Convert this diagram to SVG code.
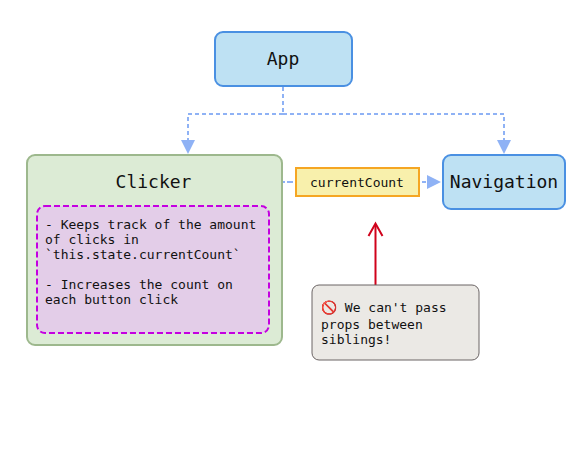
<svg xmlns="http://www.w3.org/2000/svg" width="577" height="466" viewBox="0 0 577 466">
<defs>
<style>
text{font-family:"DejaVu Sans Mono","Liberation Mono",monospace;fill:#111;white-space:pre}
.t18{font-size:18px;text-anchor:middle}
.t13{font-size:13px}
.blue{fill:#bee1f3;stroke:#4a90e2;stroke-width:2}
.dash{fill:none;stroke:#8fb2f5;stroke-width:2;stroke-dasharray:4 3}
.solid{stroke-dasharray:none}
.head{fill:#8fb2f5}
</style>
</defs>
<rect width="577" height="466" fill="#fff"/>
<g id="connectors">
<path class="dash" d="M283 87V114M283 114H188V141M283 114H504V141"/>
<path class="head" d="M181 140H195L188 154Z"/>
<path class="head" d="M497 140H511L504 154Z"/>
<path class="dash solid" d="M283 182H285M287 182H293"/>
<path class="dash solid" d="M422 182H426"/>
<path class="head" d="M427 175L441 182L427 189Z"/>
<path d="M375.500 285V225" fill="none" stroke="#d0021b" stroke-width="2"/>
<path d="M368.500 236L375.500 223.500L382.500 236" fill="none" stroke="#d0021b" stroke-width="2"/>
</g>
<g id="app">
<rect class="blue" x="215" y="32" width="137" height="54" rx="8"/>
<text class="t18" x="283" y="65">App</text>
</g>
<g id="clicker">
<rect x="27" y="155" width="255" height="190" rx="8" fill="#dcebd5" stroke="#9db88d" stroke-width="2"/>
<text class="t18" x="153.500" y="188">Clicker</text>
<rect x="37" y="206" width="232" height="127" rx="8" fill="#e3cde8" stroke="#c400e0" stroke-width="2" stroke-dasharray="6 3"/>
<text class="t13" x="45" y="229">- Keeps track of the amount</text>
<text class="t13" x="45" y="244">of clicks in</text>
<text class="t13" x="45" y="259">`this.state.currentCount`</text>
<text class="t13" x="45" y="289">- Increases the count on</text>
<text class="t13" x="45" y="304">each button click</text>
</g>
<g id="currentCount">
<rect x="296" y="168" width="123" height="28" fill="#f8f0ac" stroke="#f5a623" stroke-width="2"/>
<text class="t13" x="357" y="187" text-anchor="middle">currentCount</text>
</g>
<g id="navigation">
<rect class="blue" x="443" y="155" width="122" height="54" rx="8"/>
<text class="t18" x="504" y="188">Navigation</text>
</g>
<g id="note">
<rect x="312" y="285" width="167" height="75" rx="7" fill="#ebe9e5" stroke="#6b6464" stroke-width="1"/>
<text class="t13" x="321" y="312"><tspan fill="#d9362b" stroke="#d9362b" stroke-width="0.8">🚫</tspan> We can't pass</text>
<text class="t13" x="321" y="329">props between</text>
<text class="t13" x="321" y="344">siblings!</text>
</g>
</svg>
